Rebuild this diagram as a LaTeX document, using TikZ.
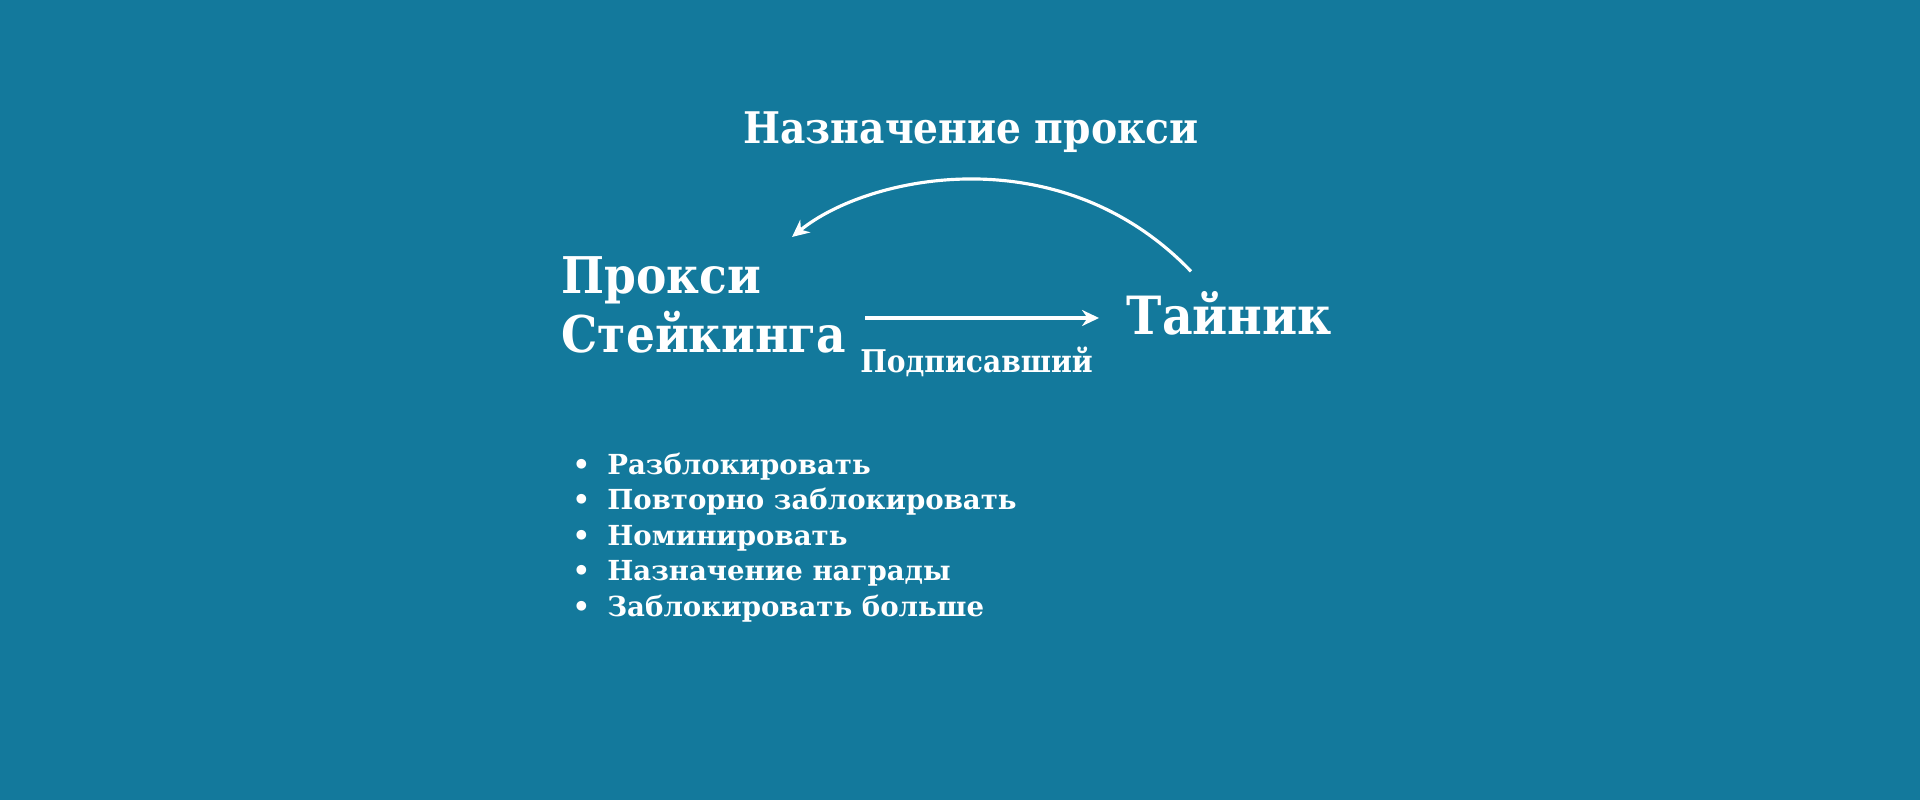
\documentclass[tikz,border=0pt]{standalone}
\usepackage{fontspec}
\setmainfont{DejaVu Serif}
\newfontfamily\headfont{DejaVu Serif Condensed}
\definecolor{SeaBlue}{RGB}{19, 121, 156}
\usetikzlibrary{arrows.meta, positioning}

\begin{document}
\begin{tikzpicture}
        \tikzstyle{block} = [inner sep=0pt, text=white, align=left, font=\headfont\bfseries\fontsize{14.4}{16.8}\selectfont]
        \tikzstyle{arrow} = [-{Stealth[length=0.17cm, width=0.16cm]}, line width=0.9pt, white]
        \tikzstyle{tasklist} = [inner sep=0pt, anchor=west, text=white, font=\bfseries\fontsize{7.85}{10.1}\selectfont]

        % Background
        \fill [SeaBlue] (0,0) rectangle (19.2,8);

        % Nodes
        \node (proxy) [block, anchor=west] at (5.61,4.95) {Прокси\\Стейкинга};
        \node (vault) [block, right=2.79cm of proxy, yshift=-0.08cm, font=\headfont\bfseries\fontsize{15}{18}\selectfont] {Тайник};
        \node (title) [block, font=\headfont\bfseries\fontsize{12.4}{15}\selectfont] at (9.71,6.68) {Назначение прокси};

        % Arrows
        \draw [arrow, shorten <=0.18cm, shorten >=0.27cm] ([yshift=-0.05cm]proxy.east |- vault.west) -- ([yshift=-0.05cm]vault.west)
            node [midway, below=0.27cm, xshift=-0.1cm, inner sep=0pt, text=white, font=\headfont\bfseries\fontsize{8.9}{11}\selectfont] {Подписавший};
        \draw [arrow] ([xshift=0.65cm, yshift=0.19cm]vault.north west) .. controls (10.6,6.65) and (8.68,6.25) .. ([xshift=-0.55cm, yshift=0.19cm]proxy.north east);

        % Actions below
        \node (tasks) [tasklist] at (5.72,2.62) {\begin{tabular}{@{}l@{\hspace{0.17cm}}l@{}}
            • & Разблокировать\\
            • & Повторно заблокировать\\
            • & Номинировать\\
            • & Назначение награды\\
            • & Заблокировать больше
        \end{tabular}};
    \end{tikzpicture}
\end{document}
